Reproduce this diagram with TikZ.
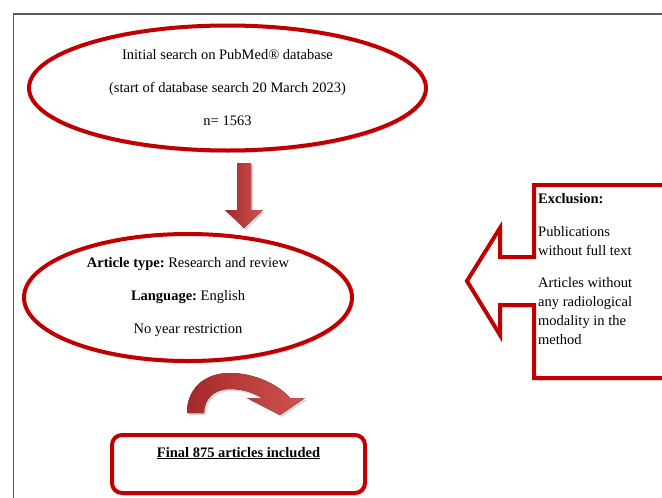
\documentclass[tikz,border=0pt]{standalone}
\usepackage{fontspec}
\setmainfont{Liberation Serif}
\frenchspacing
\usetikzlibrary{shapes.geometric, shadows}
\definecolor{boxred}{RGB}{192,0,0}
\definecolor{arrowred}{RGB}{205,85,82}
\definecolor{arrowdark}{RGB}{165,40,40}
\definecolor{framegray}{RGB}{90,90,90}

\begin{document}
\begin{tikzpicture}[x=1pt, y=-1pt,
  redline/.style={draw=boxred, line width=4pt, fill=white,
    drop shadow={shadow xshift=1.5pt, shadow yshift=-2.5pt, opacity=.35}},
  oval/.style={redline, ellipse, inner sep=0pt, align=center,
    font=\fontsize{14.5}{33}\selectfont},
  blockarrow/.style={left color=arrowdark, right color=arrowred,
    drop shadow={shadow xshift=2pt, shadow yshift=-2pt, opacity=.3}}]
  \useasboundingbox (0,0) rectangle (662,498);
  \draw[framegray, line width=1.2pt] (13.5,498) -- (13.5,14) -- (662,14);

  \node[oval, minimum width=397, minimum height=125] (search) at (227.5,88)
    {Initial search on PubMed® database\\(start of database search 20 March 2023)\\n= 1563};

  \fill[blockarrow] (237,163) -- (251,163) -- (251,210) -- (263,210)
    -- (244,228) -- (225,210) -- (237,210) -- cycle;

  \node[oval, minimum width=328, minimum height=127] (screen) at (188,297.5)
    {\textbf{Article type:} Research and review\\\textbf{Language:} English\\No year restriction};

  % exclusion callout
  \draw[redline, line join=miter] (534,185) -- (668,185) -- (668,378) -- (534,378)
    -- (534,305) -- (500,305) -- (500,335) -- (467,281) -- (500,228)
    -- (500,257) -- (534,257) -- cycle;
  \node[anchor=north west, align=left, inner sep=0pt,
    font=\fontsize{14.5}{19}\selectfont] (exclusion) at (538,193)
    {\textbf{Exclusion:}\\[14pt]Publications\\without full text\\[13pt]Articles without\\any radiological\\modality in the\\method};

  \fill[blockarrow] (187,413) .. controls (187,388) and (205,373) .. (230,373)
    .. controls (255,373) and (279,385) .. (290,398) -- (305,398) -- (280,415)
    -- (247,398) -- (262,398) .. controls (252,392) and (242,389) .. (230,389)
    .. controls (214,389) and (204,399) .. (204,413) -- cycle;

  \node[redline, rounded corners=10pt, minimum width=253, minimum height=58,
    align=center, font=\fontsize{14.5}{24}\selectfont] (final) at (238.5,464)
    {\textbf{\underline{Final 875 articles included}}\\\mbox{}};
\end{tikzpicture}
\end{document}
